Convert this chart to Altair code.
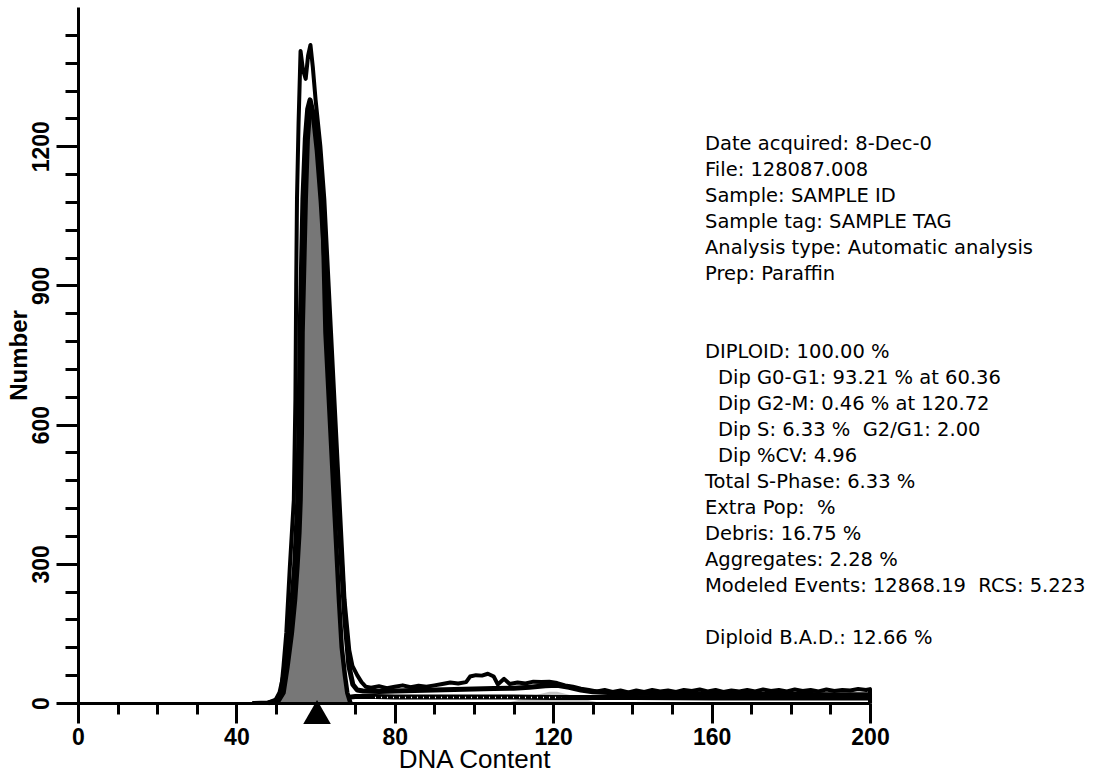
import altair as alt
import pandas as pd

# ---------------- data ----------------
# raw histogram (outer envelope, thick black line)
raw_x = [44, 48, 49.5, 50.5, 51.3, 51.9, 52.6, 53.5, 54.5, 54.9, 55.1, 55.3, 55.7, 56.2,
         56.8, 57.5, 58.1, 58.7, 59.3, 60.0, 61.2, 62.2, 63.9, 65.6, 67.3, 68.5, 69.3,
         70.5, 71.6, 72.7, 74, 76, 78, 80, 82, 84, 86, 88, 90, 92, 94, 96, 98, 99,
         100.5, 102, 103.5, 105, 106, 107.6, 109, 111, 113, 115, 117, 119, 121, 123,
         125, 127, 129, 131, 133, 135, 137, 139, 141, 143, 145, 147, 149, 151, 153,
         155, 157, 159, 161, 163, 165, 167, 169, 171, 173, 175, 177, 179, 181, 183,
         185, 187, 189, 191, 193, 195, 197, 199, 200, 200.01]
raw_y = [0, 1, 4, 12, 28, 80, 151, 294, 438, 654, 900, 1086, 1250, 1405,
         1365, 1345, 1395, 1418, 1370, 1300, 1200, 1086, 798, 510, 222, 114, 80,
         60, 45, 35, 33, 36, 32, 35, 38, 34, 37, 35, 38, 41, 44, 42, 45, 57,
         60, 59, 63, 57, 40, 52, 41, 44, 42, 46, 45, 46, 43, 38,
         35, 31, 28, 25, 28, 24, 27, 23, 27, 24, 28, 25, 27, 24, 28,
         26, 29, 25, 28, 24, 27, 25, 28, 25, 29, 26, 28, 25, 29, 26,
         28, 25, 29, 26, 28, 27, 30, 28, 30, 0]

# model total fit (thick black line inside the envelope)
fit_x = [48, 50, 51, 52, 53.4, 54.7, 55.5, 55.9, 56.1, 56.8, 57.4, 58.0, 58.6, 59.4,
         60.4, 61.4, 62.4, 63.4, 64.4, 65.4, 66.4, 67.4, 68.4, 69.4, 70.5, 72, 76,
         80, 85, 90, 95, 100, 105, 110, 114, 118, 121, 124, 127, 130, 135, 140, 150,
         160, 170, 180, 190, 200]
fit_y = [0, 6, 22, 60, 151, 294, 438, 654, 798, 1086, 1215, 1280, 1300, 1270,
         1190, 1080, 940, 790, 630, 470, 320, 180, 80, 40, 28, 26, 25,
         26, 27, 28, 29, 30, 31, 32, 34, 37, 38, 34, 28, 24, 22, 21, 20,
         20, 19, 19, 18, 18]

# G0-G1 component (grey filled)
g1_x = [50.3, 51.9, 52.9, 54.0, 54.8, 55.4, 55.9, 56.2, 56.5, 56.7, 57.5, 58.0, 58.7,
        59.5, 60.5, 61.7, 62.5, 64.2, 65.9, 66.6, 67.4, 68.0, 68.8]
g1_y = [0, 22, 78, 151, 222, 294, 367, 438, 580, 798, 1086, 1215, 1290,
        1265, 1200, 1086, 798, 510, 222, 120, 60, 22, 0]

# G2-M component (light grey)
g2_x = [108, 112, 116, 119, 121, 124, 128, 132]
g2_y = [0, 8, 18, 24, 24, 18, 8, 0]

# debris + S-phase baseline
base_x = [66, 70, 75, 80, 90, 100, 110, 120, 130, 140, 160, 180, 200]
base_y = [10, 14, 14, 13, 13, 13, 13, 12, 12, 12, 11, 11, 11]
sph_x = [75, 85, 95, 105, 115, 122]
sph_y = [12, 12, 12, 12, 12, 12]

# G0-G1 position marker
marker_x = [60.36]

x_major = [0, 40, 80, 120, 160, 200]
x_minor = [0, 10, 20, 30, 40, 50, 60, 70, 80, 90, 100, 110, 120, 130, 140, 150,
           160, 170, 180, 190, 200]
y_major = [0, 300, 600, 900, 1200]
y_minor = [0, 60, 120, 180, 240, 300, 360, 420, 480, 540, 600, 660, 720, 780, 840,
           900, 960, 1020, 1080, 1140, 1200, 1260, 1320, 1380, 1440]

header_lines = [
    "Date acquired: 8-Dec-0",
    "File: 128087.008",
    "Sample: SAMPLE ID",
    "Sample tag: SAMPLE TAG",
    "Analysis type: Automatic analysis",
    "Prep: Paraffin",
]
diploid_line = "DIPLOID: 100.00 %"
dip_lines = [
    "Dip G0-G1: 93.21 % at 60.36",
    "Dip G2-M: 0.46 % at 120.72",
    "Dip S: 6.33 %\u00a0\u00a0G2/G1: 2.00",
    "Dip %CV: 4.96",
]
summary_lines = [
    "Total S-Phase: 6.33 %",
    "Extra Pop:\u00a0\u00a0%",
    "Debris: 16.75 %",
    "Aggregates: 2.28 %",
    "Modeled Events: 12868.19\u00a0\u00a0RCS: 5.223",
]
bad_line = "Diploid B.A.D.: 12.66 %"

# ---------------- chart ----------------
W, H = 792, 696
TICKFONT = "Liberation Sans"
TXTFONT = "DejaVu Sans"
LH = 26
TOP = 128
TX = 627

xs = alt.Scale(domain=[0, 200], nice=False, zero=False)
ys = alt.Scale(domain=[0, 1500], nice=False, zero=True)

raw_df = pd.DataFrame({"x": raw_x, "y": raw_y, "i": list(range(len(raw_x)))})
fit_df = pd.DataFrame({"x": fit_x, "y": fit_y, "i": list(range(len(fit_x)))})
g1_df = pd.DataFrame({"x": g1_x, "y": g1_y})
g2_df = pd.DataFrame({"x": g2_x, "y": g2_y})
base_df = pd.DataFrame({"x": base_x, "y": base_y})
sph_df = pd.DataFrame({"x": sph_x, "y": sph_y})
mk_df = pd.DataFrame({"x": marker_x})

x_axis = alt.Axis(values=x_major, orient="bottom", tickSize=20, tickWidth=3, tickColor="black",
                  domainColor="black", domainWidth=3, labelFont=TICKFONT, labelFontSize=23,
                  labelFontWeight="bold", labelColor="black", labelPadding=3, labelFlush=False,
                  labelOverlap=False, grid=False, format="d", title="DNA Content",
                  titleFont="Liberation Sans", titleFontSize=26, titleFontWeight="normal",
                  titleColor="black", titleBaseline="alphabetic", titleY=64, zindex=1)
y_axis = alt.Axis(values=y_major, orient="left", tickSize=22, tickWidth=3, tickColor="black",
                  domainColor="black", domainWidth=3, labelFont=TICKFONT, labelFontSize=23,
                  labelFontWeight="bold", labelColor="black", labelAngle=270, labelAlign="center",
                  labelBaseline="bottom", labelPadding=3, labelFlush=False, labelOverlap=False,
                  grid=False, format="d", title="Number", titleFont="Liberation Sans",
                  titleFontSize=24, titleFontWeight="bold", titleColor="black", titleAngle=270,
                  titleAlign="center", titleBaseline="alphabetic", titleX=-52, titleY=348,
                  zindex=1)

g1_area = alt.Chart(g1_df).mark_area(
    color="#777777", opacity=1, line={"color": "black", "strokeWidth": 4.5}
).encode(
    x=alt.X("x:Q", scale=xs, axis=x_axis),
    y=alt.Y("y:Q", scale=ys, axis=y_axis),
)
g2_area = alt.Chart(g2_df).mark_area(color="#c4c4c4", opacity=1).encode(x="x:Q", y="y:Q")
base_line = alt.Chart(base_df).mark_line(color="black", strokeWidth=5).encode(x="x:Q", y="y:Q")
sph_line = alt.Chart(sph_df).mark_line(color="white", strokeWidth=1.5, strokeDash=[1, 5]).encode(
    x="x:Q", y="y:Q")
fit_line = alt.Chart(fit_df).mark_line(color="black", strokeWidth=5, strokeJoin="round").encode(
    x="x:Q", y="y:Q", order="i:Q")
raw_line = alt.Chart(raw_df).mark_line(color="black", strokeWidth=4, strokeJoin="round").encode(
    x="x:Q", y="y:Q", order="i:Q")
marker = alt.Chart(mk_df).mark_point(shape="triangle-up", filled=True, color="black", size=760,
                                     opacity=1).encode(x="x:Q", y=alt.value(H + 9))


def text_block(lines, x, row):
    return alt.Chart(alt.Data(values=[{"k": 0}])).mark_text(
        align="left", baseline="top", font=TXTFONT, fontSize=19.5, lineHeight=LH, color="black"
    ).encode(x=alt.value(x), y=alt.value(TOP + LH * row), text=alt.value(lines))


info = alt.layer(
    text_block(header_lines, TX, 0),
    text_block(diploid_line, TX, 8),
    text_block(dip_lines, TX + 13, 9),
    text_block(summary_lines, TX, 13),
    text_block(bad_line, TX, 19),
)

main = alt.layer(g2_area, base_line, sph_line, g1_area, fit_line, raw_line, marker, info)

xminor_df = pd.DataFrame({"x": x_minor})
yminor_df = pd.DataFrame({"y": y_minor})
xminor = alt.Chart(xminor_df).mark_point(opacity=0).encode(
    x=alt.X("x:Q", scale=xs, axis=alt.Axis(values=x_minor, orient="bottom", tickSize=11,
                                           tickWidth=3, tickColor="black", domain=False,
                                           labels=False, grid=False, title="", zindex=1)),
    y=alt.value(0))
yminor = alt.Chart(yminor_df).mark_point(opacity=0).encode(
    y=alt.Y("y:Q", scale=ys, axis=alt.Axis(values=y_minor, orient="left", tickSize=13,
                                           tickWidth=3, tickColor="black", domain=False,
                                           labels=False, grid=False, title="", zindex=1)),
    x=alt.value(0))

chart = alt.layer(main, xminor, yminor).resolve_axis(
    x="independent", y="independent"
).properties(
    width=W, height=H,
    autosize=alt.AutoSizeParams(type="none"),
    padding={"left": 78, "top": 7, "right": 249, "bottom": 70},
    background="white",
).configure_view(strokeWidth=0)

chart.save("out.html", embed_options={"renderer": "svg", "actions": False})
